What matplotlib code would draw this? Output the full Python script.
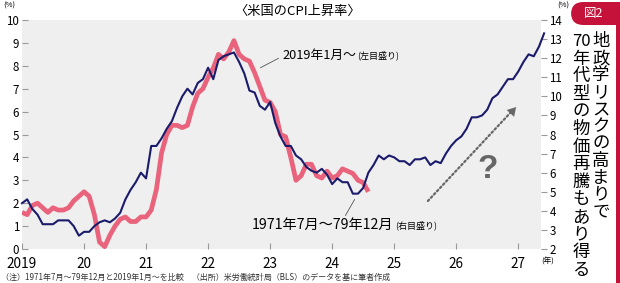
import matplotlib
matplotlib.use('Agg')
import matplotlib.pyplot as plt
from matplotlib.patches import FancyBboxPatch, Rectangle
import numpy as np

plt.rcParams['font.family'] = ['Noto Sans CJK JP', 'DejaVu Sans']

W, H = 620, 283

# US CPI YoY (%), Jan 2019 - Aug 2024 (left axis)
cpi_2019 = [1.6, 1.5, 1.9, 2.0, 1.8, 1.6, 1.8, 1.7, 1.7, 1.8, 2.1, 2.3,
            2.5, 2.3, 1.5, 0.3, 0.1, 0.6, 1.0, 1.3, 1.4, 1.2, 1.2, 1.4,
            1.4, 1.7, 2.6, 4.2, 5.0, 5.4, 5.4, 5.3, 5.4, 6.2, 6.8, 7.0,
            7.5, 7.9, 8.5, 8.3, 8.6, 9.1, 8.5, 8.3, 8.2, 7.7, 7.1, 6.5,
            6.4, 6.0, 5.0, 4.9, 4.0, 3.0, 3.2, 3.7, 3.7, 3.2, 3.1, 3.4,
            3.1, 3.2, 3.5, 3.4, 3.3, 3.0, 2.9, 2.5]
# US CPI YoY (%), Jul 1971 - Dec 1979 (right axis)
cpi_1971 = [4.4, 4.6, 4.1, 3.8, 3.3, 3.3,
            3.3, 3.5, 3.5, 3.5, 3.2, 2.7, 2.9, 2.9, 3.2, 3.4, 3.5, 3.4,
            3.6, 3.9, 4.6, 5.1, 5.5, 6.0, 5.7, 7.4, 7.4, 7.8, 8.3, 8.7,
            9.4, 10.0, 10.4, 10.1, 10.7, 10.9, 11.5, 10.9, 11.9, 12.1, 12.2, 12.3,
            11.8, 11.2, 10.3, 10.2, 9.5, 9.3, 9.7, 8.6, 7.9, 7.4, 7.4, 6.9,
            6.7, 6.3, 6.1, 6.0, 6.2, 5.9, 5.4, 5.7, 5.5, 5.5, 4.9, 4.9,
            5.2, 6.0, 6.4, 6.9, 6.7, 6.9, 6.8, 6.6, 6.6, 6.4, 6.7, 6.7,
            6.8, 6.4, 6.6, 6.5, 7.0, 7.4, 7.7, 7.9, 8.3, 8.9, 8.9, 9.0,
            9.3, 9.9, 10.1, 10.5, 10.9, 10.9, 11.3, 11.8, 12.2, 12.1, 12.6, 13.3]
year_ticks = [0, 12, 24, 36, 48, 60, 72, 84, 96]
year_labels = ['2019', '20', '21', '22', '23', '24', '25', '26', '27']
left_ticks = list(range(0, 11))
right_ticks = list(range(2, 15))

pink = '#E8637B'
navy = '#1B1B6B'
red = '#C4123A'
gray_txt = '#666666'


def px(x, y):
    return x / W, 1 - y / H


fig = plt.figure(figsize=(6.2, 2.83), dpi=100)
ax = fig.add_axes([22 / W, (H - 249) / H, (541 - 22) / W, (249 - 20) / H])
ax.set_facecolor('#EFEFEF')
for s in ax.spines.values():
    s.set_visible(False)

ax.plot(np.arange(len(cpi_2019)), cpi_2019, color=pink, lw=3.4, solid_capstyle='butt', zorder=2)
ax.set_xlim(0, 100.4)
ax.set_ylim(0, 10)
ax.set_xticks(year_ticks)
ax.set_xticklabels(year_labels, fontsize=9.8)
ax.set_yticks(left_ticks)
ax.set_yticklabels([str(v) for v in left_ticks], fontsize=8.3)
ax.tick_params(axis='both', direction='in', length=4, color='#999999', width=0.8, pad=2)
ax.tick_params(axis='x', pad=6)

ax2 = ax.twinx()
for s in ax2.spines.values():
    s.set_visible(False)
ax2.plot(np.arange(len(cpi_1971)), cpi_1971, color=navy, lw=1.5, clip_on=False, zorder=3)
ax2.set_ylim(2, 14)
ax2.set_yticks(right_ticks)
ax2.set_yticklabels([str(v) for v in right_ticks], fontsize=8.3)
ax2.tick_params(axis='y', direction='out', length=4, color='#999999', width=0.8, pad=2)

# title and units
fig.text(*px(298, 11), '〈米国のCPI上昇率〉', ha='center', va='center', fontsize=9.5)
fig.text(*px(9, 6), '(%)', ha='center', va='center', fontsize=5.5)
fig.text(*px(563, 6), '(%)', ha='center', va='center', fontsize=5.5)
fig.text(*px(541, 262), '(年)', ha='left', va='center', fontsize=5.5)

# series labels
ax.annotate('', xy=px(258, 69), xycoords='figure fraction', xytext=px(281, 57),
            textcoords='figure fraction', arrowprops=dict(arrowstyle='-', color='#555555', lw=0.6))
t1 = fig.text(*px(282, 55), '2019年1月～', ha='left', va='center', fontsize=9.2)
ax.annotate('(左目盛り)', xy=(1, 0.45), xycoords=t1, xytext=(1, 0), textcoords='offset points',
            ha='left', va='center', fontsize=6.5)
ax.annotate('', xy=px(356, 197), xycoords='figure fraction', xytext=px(344, 218),
            textcoords='figure fraction', arrowprops=dict(arrowstyle='-', color='#555555', lw=0.6))
t2 = fig.text(*px(252, 225), '1971年7月～79年12月', ha='left', va='center', fontsize=10.2)
ax.annotate('(右目盛り)', xy=(1, 0.45), xycoords=t2, xytext=(1, 0), textcoords='offset points',
            ha='left', va='center', fontsize=6.5)

# dotted arrow and question mark
ax.annotate('', xy=px(512, 111), xycoords='figure fraction', xytext=px(426, 203),
            textcoords='figure fraction',
            arrowprops=dict(arrowstyle='-', color=gray_txt, lw=1.6, linestyle=(0, (0.8, 1.2))))
ax.annotate('', xy=px(518, 105), xycoords='figure fraction', xytext=px(508, 116),
            textcoords='figure fraction',
            arrowprops=dict(arrowstyle='-|>,head_length=0.6,head_width=0.35', color=gray_txt, lw=0.1))
fig.text(*px(488, 170), '?', ha='center', va='center', fontsize=24, fontweight='bold',
         color=gray_txt, family=['Liberation Sans', 'DejaVu Sans'])

# note
fig.text(*px(1, 277), '（注）1971年7月～79年12月と2019年1月～を比較　（出所）米労働統計局（BLS）のデータを基に筆者作成',
         ha='left', va='center', fontsize=5.8, color='#333333')

# right panel
fig.patches.append(FancyBboxPatch((571 / W, 1 - 25 / H), 80 / W, 23 / H, boxstyle='round,pad=0,rounding_size=0.02',
                                  transform=fig.transFigure, facecolor=red, edgecolor='none', mutation_aspect=2.2))
fig.patches.append(Rectangle((616 / W, 0), 4 / W, 1 - 20 / H, transform=fig.transFigure,
                             facecolor=red, edgecolor='none'))
fig.text(*px(594, 13), '図2', ha='center', va='center', fontsize=9, color='white')

col1 = list('地政学リスクの高まりで')
col2 = ['70'] + list('年代型の物価再騰もあり得る')
for i, ch in enumerate(col1):
    fig.text(*px(601, 41 + i * 17.1), ch, ha='center', va='center', fontsize=12.5)
for i, ch in enumerate(col2):
    fig.text(*px(581, 41 + i * 17.6), ch, ha='center', va='center', fontsize=12.5 if ch != '70' else 12)

fig.savefig('out.png', dpi=100)
